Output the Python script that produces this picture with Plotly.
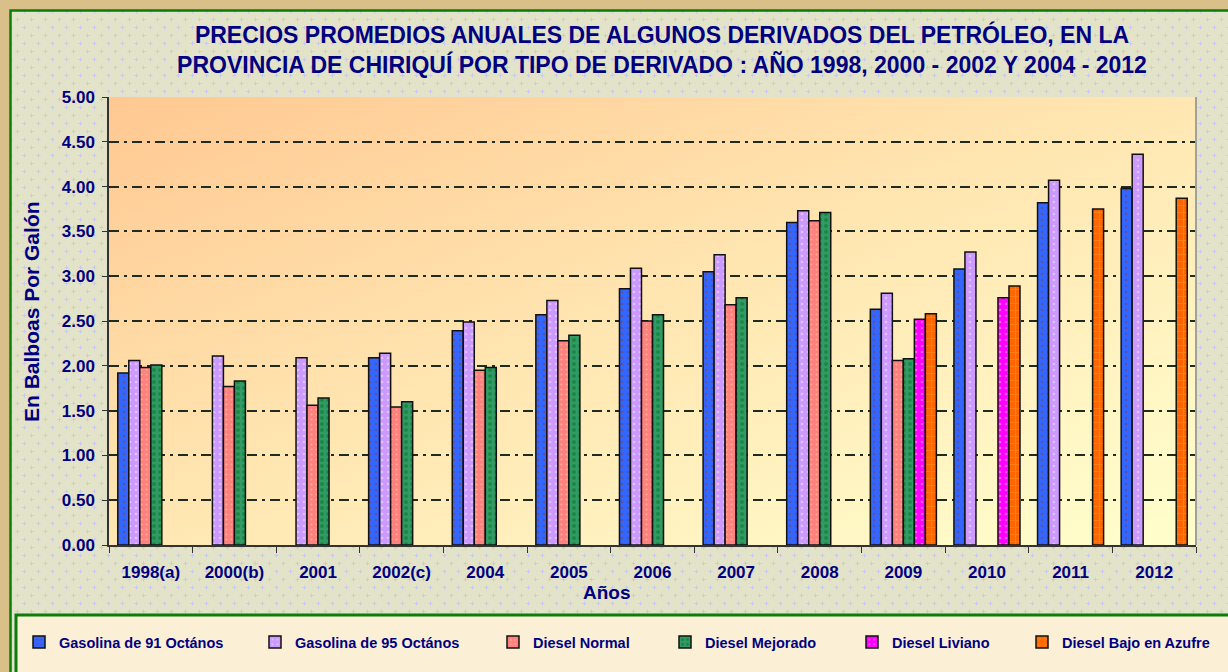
import base64
import plotly.graph_objects as go

# ---------------- data ----------------
categories = ["1998(a)", "2000(b)", "2001", "2002(c)", "2004", "2005", "2006",
              "2007", "2008", "2009", "2010", "2011", "2012"]
gasolina_91 = [1.92, None, None, 2.09, 2.39, 2.57, 2.86, 3.05, 3.60, 2.63, 3.08, 3.82, 3.98]
gasolina_95 = [2.06, 2.11, 2.09, 2.14, 2.49, 2.73, 3.09, 3.24, 3.73, 2.81, 3.27, 4.07, 4.36]
diesel_normal = [1.98, 1.77, 1.56, 1.54, 1.95, 2.28, 2.50, 2.68, 3.62, 2.06, None, None, None]
diesel_mejorado = [2.01, 1.83, 1.64, 1.60, 1.98, 2.34, 2.57, 2.76, 3.71, 2.08, None, None, None]
diesel_liviano = [None, None, None, None, None, None, None, None, None, 2.52, 2.76, None, None]
diesel_bajo_azufre = [None, None, None, None, None, None, None, None, None, 2.58, 2.89, 3.75, 3.87]

series_names = ["Gasolina de 91 Octános", "Gasolina de 95 Octános", "Diesel Normal",
                "Diesel Mejorado", "Diesel Liviano", "Diesel Bajo en Azufre"]
series_values = [gasolina_91, gasolina_95, diesel_normal, diesel_mejorado,
                 diesel_liviano, diesel_bajo_azufre]

y_ticks = [0, 0.5, 1, 1.5, 2, 2.5, 3, 3.5, 4, 4.5, 5]

title_text = ("PRECIOS PROMEDIOS ANUALES DE ALGUNOS DERIVADOS DEL PETRÓLEO, EN LA<br>"
              "PROVINCIA DE CHIRIQUÍ POR TIPO DE DERIVADO : AÑO 1998, 2000 - 2002 Y 2004 - 2012")

# ---------------- styles ----------------
W, H = 1228, 672
L, R, T, B = 109, 1196, 97, 545
PW, PH = R - L, B - T
NAVY = "#000080"
FONT = "Liberation Sans, Arial, sans-serif"

styles = [
    dict(color="#3366FF", pattern=dict(shape=".", fgcolor="#8B3A2A", size=6, solidity=0.12)),
    dict(color="#CC99FF", pattern=dict(shape=".", fgcolor="#F2EEFF", size=6, solidity=0.15)),
    dict(color="#FF8080", pattern=dict(shape=".", fgcolor="#FFE08A", size=5, solidity=0.15)),
    dict(color="#339966", pattern=dict(shape=".", fgcolor="#007A1E", size=6, solidity=0.35)),
    dict(color="#FF00FF", pattern=dict(shape=".", fgcolor="#FFB0FF", size=6, solidity=0.15)),
    dict(color="#FF6600", pattern=dict(shape="+", fgcolor="#FF9A2E", size=7, solidity=0.25)),
]
legend_centers = [48, 284, 522, 694, 881, 1051]

# ---------------- background svg ----------------
svg = f'''<svg xmlns="http://www.w3.org/2000/svg" width="{W}" height="{H}" viewBox="0 0 {W} {H}">
<defs>
<pattern id="p" width="14" height="16" patternUnits="userSpaceOnUse">
<rect width="14" height="16" fill="#E3E3CA"/>
<path d="M1.5 3.5h4M3.5 1.5v4M8.5 11.5h4M10.5 9.5v4" stroke="#C8C8F4" stroke-width="1" fill="none"/>
</pattern>
<linearGradient id="g" x1="0" y1="0" x2="1" y2="1">
<stop offset="0" stop-color="#FFC892"/>
<stop offset="0.45" stop-color="#FFE4AF"/>
<stop offset="0.8" stop-color="#FFF6C4"/>
<stop offset="1" stop-color="#FFFFCC"/>
</linearGradient>
</defs>
<rect width="{W}" height="{H}" fill="#D9BF88"/>
<rect x="10" y="10" width="{W-10}" height="{H-10}" fill="url(#p)"/>
<path d="M10.5 {H} V10.5 H{W}" stroke="#0A7D0A" stroke-width="2.5" fill="none"/>
<rect x="16" y="615" width="{W}" height="80" fill="#FBF0D6" stroke="#0A7D0A" stroke-width="3"/>
<rect x="{L}" y="{T}" width="{PW}" height="{PH}" fill="url(#g)"/>
</svg>'''
svg_uri = "data:image/svg+xml;base64," + base64.b64encode(svg.encode("utf-8")).decode()

# ---------------- figure ----------------
fig = go.Figure()
for i, (name, vals, st) in enumerate(zip(series_names, series_values, styles)):
    fig.add_trace(go.Bar(
        x=categories, y=vals, name=name,
        marker=dict(color=st["color"], pattern=st["pattern"],
                    line=dict(color="#111111", width=1.5)),
        legend="legend" if i == 0 else f"legend{i+1}",
        hoverinfo="x+y+name",
    ))

legend_common = dict(orientation="h", xref="container", yref="container",
                     xanchor="left", yanchor="middle", bgcolor="rgba(0,0,0,0)",
                     borderwidth=0, itemwidth=30,
                     font=dict(family=FONT, size=14.5, color=NAVY, weight="bold"))
legends = {}
for i, c in enumerate(legend_centers):
    key = "legend" if i == 0 else f"legend{i+1}"
    legends[key] = dict(legend_common, x=(c - 29) / W, y=(H - 642) / H)

fig.update_layout(
    width=W, height=H,
    margin=dict(l=L, r=W - R, t=T, b=H - B, autoexpand=False),
    paper_bgcolor="#D9BF88",
    plot_bgcolor="rgba(0,0,0,0)",
    barmode="group", bargap=0.21, bargroupgap=0,
    showlegend=True,
    title=dict(text=f"<b>{title_text}</b>", x=662 / W, xref="container", xanchor="center",
               y=1 - 43 / H, yref="container", yanchor="middle",
               font=dict(family=FONT, size=23, color=NAVY)),
    xaxis=dict(type="category", showline=True, linecolor="#333333", linewidth=1.5,
               ticks="outside", tickson="boundaries", ticklen=6, tickcolor="#333333",
               tickfont=dict(family=FONT, size=17, color=NAVY, weight="bold"),
               ticklabelstandoff=11, showgrid=False),
    yaxis=dict(range=[0, 5], tickvals=y_ticks, tickformat=".2f",
               showline=True, linecolor="#333333", linewidth=1.5,
               ticks="outside", ticklen=5, tickcolor="#333333",
               tickfont=dict(family=FONT, size=17, color=NAVY, weight="bold"),
               ticklabelstandoff=4,
               showgrid=True, gridcolor="#1E2B22", gridwidth=2.2,
               griddash="10px,5px,3px,5px", zeroline=False),
    images=[dict(source=svg_uri, xref="paper", yref="paper",
                 x=-L / PW, y=1 + T / PH, sizex=W / PW, sizey=H / PH,
                 xanchor="left", yanchor="top", sizing="stretch", layer="below")],
    shapes=[dict(type="line", xref="paper", yref="paper", x0=1, x1=1, y0=0, y1=1,
                 line=dict(color="#A0A0A0", width=2))],
    annotations=[
        dict(text="<b>Años</b>", xref="paper", yref="paper", x=(607 - L) / PW,
             y=(B - 592) / PH, xanchor="center", yanchor="middle", showarrow=False,
             font=dict(family=FONT, size=19, color=NAVY)),
        dict(text="<b>En Balboas Por Galón</b>", xref="paper", yref="paper",
             x=(31 - L) / PW, y=(B - 312) / PH, xanchor="center", yanchor="middle",
             textangle=-90, showarrow=False,
             font=dict(family=FONT, size=21, color=NAVY)),
    ],
    **legends,
)

fig.write_html("out.html", config={"displayModeBar": False},
               post_script="document.body.style.margin='0';document.body.style.overflow='hidden';")
